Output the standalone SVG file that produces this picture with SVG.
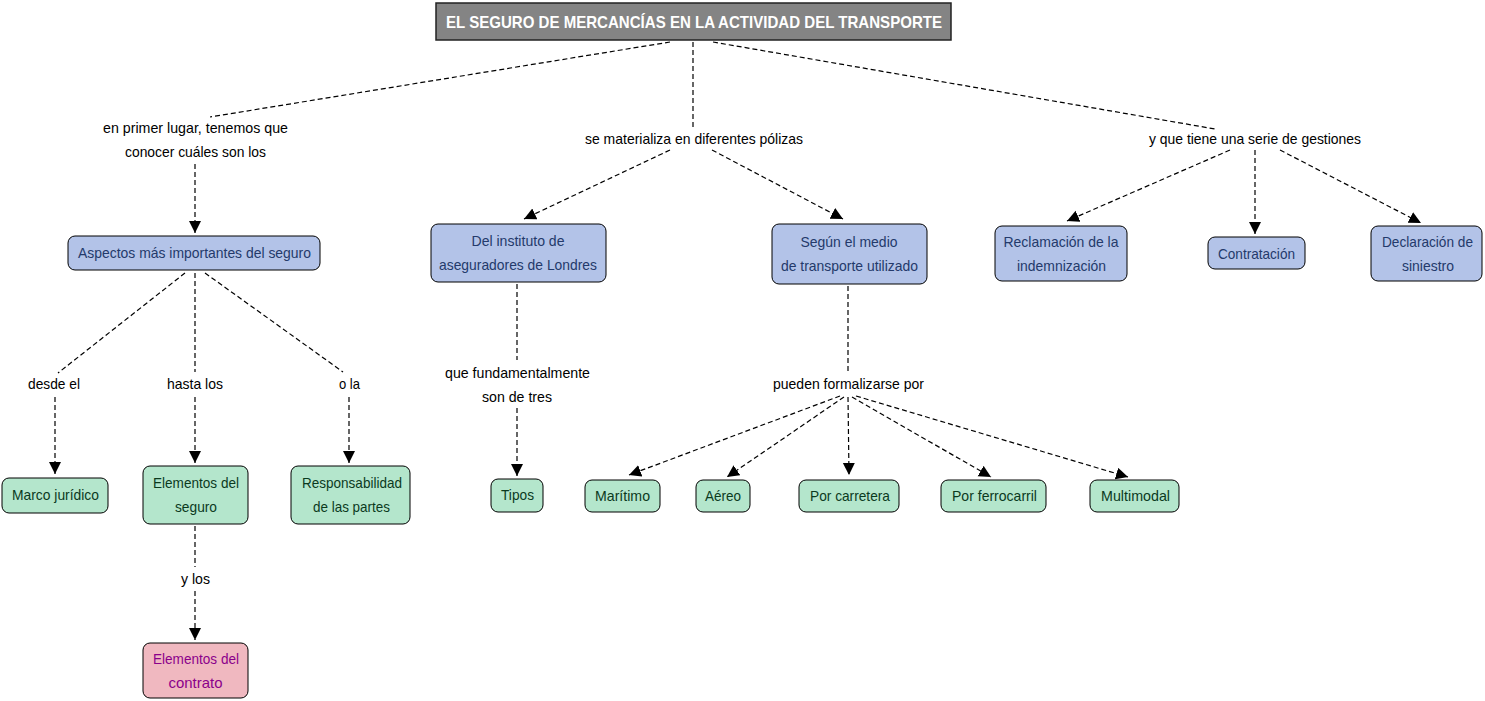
<svg xmlns="http://www.w3.org/2000/svg" width="1485" height="701" viewBox="0 0 1485 701">
<defs>
<style>
text{font-family:"Liberation Sans",Arial,sans-serif;font-size:15px;text-anchor:middle}
.lbl{fill:#000}
.blue rect{fill:#b3c3e8;stroke:#000;stroke-width:1}
.blue text{fill:#243a6b}
.green rect{fill:#b4e6cc;stroke:#000;stroke-width:1}
.green text{fill:#0b3a1e}
.pink rect{fill:#f0b8c0;stroke:#000;stroke-width:1}
.pink text{fill:#8b008b}
.title rect{fill:#848484;stroke:#222;stroke-width:1.5}
.title text{fill:#fff;font-weight:bold;font-size:17px}
#connectors path{fill:none;stroke:#000;stroke-width:1.2;stroke-dasharray:5,3}
</style>
<marker id="ah" markerUnits="userSpaceOnUse" markerWidth="13" markerHeight="13" refX="12" refY="6" orient="auto">
<path d="M0,0 L12,6 L0,12 z" fill="#000"/>
</marker>
</defs>
<rect width="1485" height="701" fill="#fff"/>

<g id="connectors">
<path d="M670,42 L210,117"/>
<path d="M693,42 L693,127"/>
<path d="M713,42 L1215,129"/>
<path d="M195,164 L195,233" marker-end="url(#ah)"/>
<path d="M670,150 L524,219" marker-end="url(#ah)"/>
<path d="M712,150 L843,219" marker-end="url(#ah)"/>
<path d="M1230,150 L1067,221" marker-end="url(#ah)"/>
<path d="M1255,150 L1255,234" marker-end="url(#ah)"/>
<path d="M1280,150 L1421,223" marker-end="url(#ah)"/>
<path d="M185,273 L58,373"/>
<path d="M195,273 L195,372"/>
<path d="M205,273 L343,372"/>
<path d="M55,397 L55,474" marker-end="url(#ah)"/>
<path d="M195,397 L195,463" marker-end="url(#ah)"/>
<path d="M349,397 L349,463" marker-end="url(#ah)"/>
<path d="M195,526 L195,567"/>
<path d="M195,591 L195,640" marker-end="url(#ah)"/>
<path d="M517,284 L517,360"/>
<path d="M517,408 L517,476" marker-end="url(#ah)"/>
<path d="M848,286 L848,372"/>
<path d="M840,396 L629,475" marker-end="url(#ah)"/>
<path d="M844,397 L727,477" marker-end="url(#ah)"/>
<path d="M848,397 L849,475" marker-end="url(#ah)"/>
<path d="M852,397 L991,477" marker-end="url(#ah)"/>
<path d="M856,396 L1128,477" marker-end="url(#ah)"/>
</g>

<g id="link-labels" class="lbl">
<text x="195.5" y="133" textLength="185" lengthAdjust="spacingAndGlyphs">en primer lugar, tenemos que</text>
<text x="195.5" y="157" textLength="141" lengthAdjust="spacingAndGlyphs">conocer cuáles son los</text>
<text x="694" y="144" textLength="218" lengthAdjust="spacingAndGlyphs">se materializa en diferentes pólizas</text>
<text x="1255" y="144" textLength="212" lengthAdjust="spacingAndGlyphs">y que tiene una serie de gestiones</text>
<text x="54" y="389" textLength="52" lengthAdjust="spacingAndGlyphs">desde el</text>
<text x="195" y="389" textLength="56" lengthAdjust="spacingAndGlyphs">hasta los</text>
<text x="349.5" y="389" textLength="21" lengthAdjust="spacingAndGlyphs">o la</text>
<text x="195.5" y="584" textLength="29" lengthAdjust="spacingAndGlyphs">y los</text>
<text x="517.5" y="378" textLength="145" lengthAdjust="spacingAndGlyphs">que fundamentalmente</text>
<text x="517" y="402" textLength="70" lengthAdjust="spacingAndGlyphs">son de tres</text>
<text x="848.5" y="389" textLength="151" lengthAdjust="spacingAndGlyphs">pueden formalizarse por</text>
</g>

<g id="title" class="title">
<rect x="436" y="3" width="515" height="37"/>
<text x="694" y="28" textLength="496" lengthAdjust="spacingAndGlyphs">EL SEGURO DE MERCANCÍAS EN LA ACTIVIDAD DEL TRANSPORTE</text>
</g>

<g id="aspectos" class="blue">
<rect x="68" y="236" width="252" height="34" rx="7"/>
<text x="194.5" y="258" textLength="233" lengthAdjust="spacingAndGlyphs">Aspectos más importantes del seguro</text>
</g>
<g id="instituto" class="blue">
<rect x="431" y="224" width="175" height="58" rx="7"/>
<text x="518" y="246" textLength="93" lengthAdjust="spacingAndGlyphs">Del instituto de</text>
<text x="518" y="270" textLength="158" lengthAdjust="spacingAndGlyphs">aseguradores de Londres</text>
</g>
<g id="segun" class="blue">
<rect x="772" y="224" width="155" height="60" rx="7"/>
<text x="849" y="247" textLength="97" lengthAdjust="spacingAndGlyphs">Según el medio</text>
<text x="849.5" y="271" textLength="137" lengthAdjust="spacingAndGlyphs">de transporte utilizado</text>
</g>
<g id="reclamacion" class="blue">
<rect x="995" y="226" width="132" height="55" rx="7"/>
<text x="1061" y="247" textLength="115" lengthAdjust="spacingAndGlyphs">Reclamación de la</text>
<text x="1061.5" y="271" textLength="89" lengthAdjust="spacingAndGlyphs">indemnización</text>
</g>
<g id="contratacion" class="blue">
<rect x="1208" y="237" width="97" height="32" rx="7"/>
<text x="1256.5" y="259" textLength="77" lengthAdjust="spacingAndGlyphs">Contratación</text>
</g>
<g id="declaracion" class="blue">
<rect x="1371" y="226" width="111" height="55" rx="7"/>
<text x="1427.5" y="247" textLength="91" lengthAdjust="spacingAndGlyphs">Declaración de</text>
<text x="1428" y="271" textLength="52" lengthAdjust="spacingAndGlyphs">siniestro</text>
</g>

<g id="marco" class="green">
<rect x="2" y="478" width="106" height="35" rx="7"/>
<text x="55.5" y="500" textLength="87" lengthAdjust="spacingAndGlyphs">Marco jurídico</text>
</g>
<g id="elementos-seguro" class="green">
<rect x="143" y="466" width="105" height="58" rx="7"/>
<text x="196" y="488" textLength="86" lengthAdjust="spacingAndGlyphs">Elementos del</text>
<text x="196" y="512" textLength="42" lengthAdjust="spacingAndGlyphs">seguro</text>
</g>
<g id="responsabilidad" class="green">
<rect x="291" y="466" width="119" height="58" rx="7"/>
<text x="352" y="488" textLength="100" lengthAdjust="spacingAndGlyphs">Responsabilidad</text>
<text x="351.5" y="512" textLength="77" lengthAdjust="spacingAndGlyphs">de las partes</text>
</g>
<g id="tipos" class="green">
<rect x="491" y="479" width="52" height="33" rx="7"/>
<text x="517.5" y="500" textLength="33" lengthAdjust="spacingAndGlyphs">Tipos</text>
</g>
<g id="maritimo" class="green">
<rect x="585" y="480" width="75" height="32" rx="7"/>
<text x="622.5" y="501" textLength="55" lengthAdjust="spacingAndGlyphs">Marítimo</text>
</g>
<g id="aereo" class="green">
<rect x="696" y="480" width="54" height="32" rx="7"/>
<text x="723" y="501" textLength="36" lengthAdjust="spacingAndGlyphs">Aéreo</text>
</g>
<g id="carretera" class="green">
<rect x="799" y="480" width="100" height="32" rx="7"/>
<text x="850" y="501" textLength="80" lengthAdjust="spacingAndGlyphs">Por carretera</text>
</g>
<g id="ferrocarril" class="green">
<rect x="941" y="480" width="105" height="32" rx="7"/>
<text x="994.5" y="501" textLength="85" lengthAdjust="spacingAndGlyphs">Por ferrocarril</text>
</g>
<g id="multimodal" class="green">
<rect x="1090" y="480" width="89" height="32" rx="7"/>
<text x="1135.5" y="501" textLength="69" lengthAdjust="spacingAndGlyphs">Multimodal</text>
</g>

<g id="elementos-contrato" class="pink">
<rect x="143" y="643" width="105" height="55" rx="7"/>
<text x="196" y="664" textLength="86" lengthAdjust="spacingAndGlyphs">Elementos del</text>
<text x="195.5" y="688" textLength="54" lengthAdjust="spacingAndGlyphs">contrato</text>
</g>
</svg>
